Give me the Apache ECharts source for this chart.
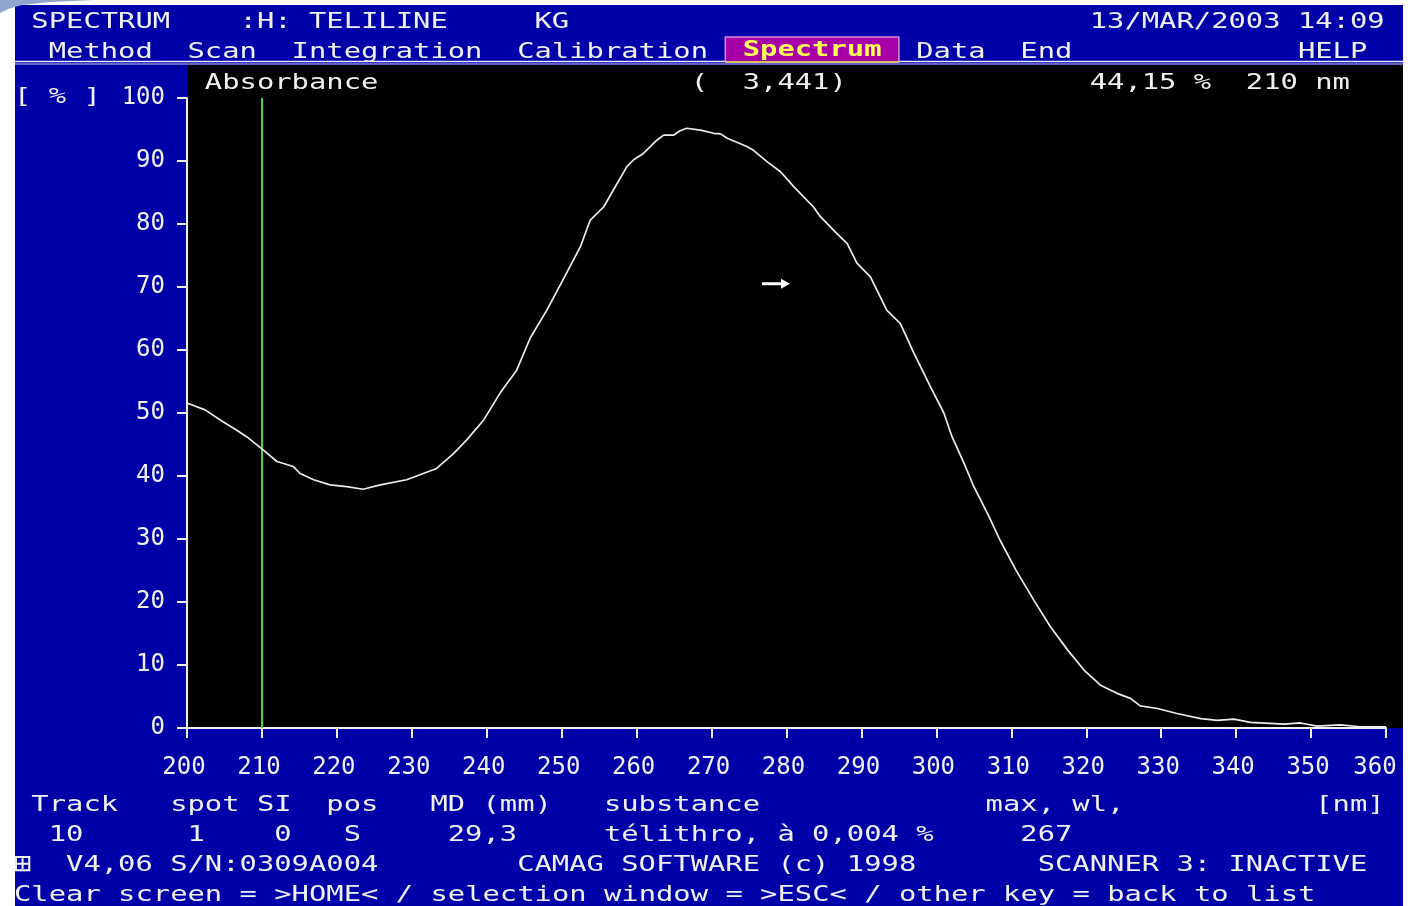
<!DOCTYPE html>
<html>
<head>
<meta charset="utf-8">
<script src="https://cdn.jsdelivr.net/npm/echarts@6/dist/echarts.min.js"></script>
<style>
html,body{margin:0;padding:0;background:#ffffff;}
#chart{width:1412px;height:906px;}
</style>
</head>
<body>
<div id="chart"></div>
<script>
// ---- data ----
const wavelengths = [200.0, 202.4, 204.8, 206.6, 208.0, 210.2, 212.0, 214.2, 215.1, 216.9, 219.1, 221.3, 223.5, 225.8, 229.3, 231.1, 233.3, 235.6, 237.3, 239.6, 241.8, 244.0, 245.8, 248.0, 249.8, 252.5, 253.8, 255.6, 256.9, 258.7, 259.6, 260.9, 262.7, 263.6, 264.9, 265.8, 266.7, 268.5, 270.3, 271.2, 272.1, 274.7, 275.6, 277.4, 279.2, 281.0, 283.6, 284.5, 286.3, 288.1, 289.4, 291.2, 293.4, 295.2, 297.0, 299.2, 301.0, 302.1, 303.7, 305.0, 306.8, 308.5, 310.6, 313.0, 315.2, 317.5, 319.7, 321.9, 324.1, 325.9, 327.2, 329.5, 332.1, 335.3, 337.5, 339.7, 341.9, 346.4, 348.6, 350.8, 353.9, 356.6, 360.0];
const absorbance = [51.6, 50.5, 48.6, 47.3, 46.2, 44.1, 42.3, 41.5, 40.4, 39.4, 38.6, 38.3, 37.9, 38.6, 39.4, 40.2, 41.2, 43.6, 45.7, 48.9, 53.2, 56.8, 61.9, 66.3, 70.3, 76.4, 80.6, 82.7, 85.4, 89.1, 90.2, 91.2, 93.3, 94.1, 94.1, 94.8, 95.2, 94.9, 94.4, 94.3, 93.6, 92.3, 91.7, 89.9, 88.3, 85.9, 82.7, 81.2, 79.0, 76.9, 73.8, 71.6, 66.3, 64.2, 59.5, 54.2, 50.0, 46.2, 42.0, 38.3, 34.1, 29.8, 25.1, 20.3, 16.1, 12.4, 9.2, 6.8, 5.5, 4.7, 3.5, 3.1, 2.3, 1.5, 1.2, 1.4, 0.9, 0.6, 0.8, 0.3, 0.5, 0.2, 0.2];
const xTickValues = [200, 210, 220, 230, 240, 250, 260, 270, 280, 290, 300, 310, 320, 330, 340, 350, 360];
const yTickValues = [0, 10, 20, 30, 40, 50, 60, 70, 80, 90, 100];
const cursorWavelength = [210];
const cursorReading = ['44,15 %', '210 nm'];
const cursorArrow = [278.6, 70.5];
const headerRow = [['SPECTRUM', 1], [':H:', 13], ['TELILINE', 17], ['KG', 30], ['13/MAR/2003 14:09', 62]];
const menuRow = [['Method', 2], ['Scan', 10], ['Integration', 16], ['Calibration', 29], ['Data', 52], ['End', 58], ['HELP', 74]];
const activeMenu = ['Spectrum', 42];
const infoLabels = [['Track', 1], ['spot SI', 9], ['pos', 18], ['MD (mm)', 24], ['substance', 34], ['max, wl,', 56], ['[nm]', 75]];
const infoValues = [['10', 2], ['1', 10], ['0', 15], ['S', 19], ['29,3', 25], ['télithro, à 0,004 %', 34], ['267', 58]];
const statusRow = [['V4,06 S/N:0309A004', 3], ['CAMAG SOFTWARE (c) 1998', 29], ['SCANNER 3: INACTIVE', 59]];
const helpRow = [['Clear screen = >HOME< / selection window = >ESC< / other key = back to list', 0]];

// ---- build ----
const seriesData = wavelengths.map((w, i) => [w, absorbance[i]]);
const FG = '#f0f0f0';
const CW = 17.35, X0 = 14, FS = 21;
const SX = CW / (FS * 0.602);
const MONO = '"DejaVu Sans Mono", "Liberation Mono", monospace';

function txt(s, col, y, color, bold, size) {
  const fs = size || FS;
  return {
    type: 'text', x: X0 + col * CW, y: y + 2, scaleX: SX * FS / fs, z: 20, silent: true,
    style: {
      text: s, fill: color || FG,
      font: (bold ? 'bold ' : '') + fs + 'px ' + MONO,
      align: 'left', verticalAlign: 'middle',
      textAlign: 'left', textVerticalAlign: 'middle'
    }
  };
}
function row(items, y) { return items.map(it => txt(it[0], it[1], y)); }

const graphics = [
  { type: 'rect', z: -20, silent: true, shape: { x: 15, y: 5, width: 1388, height: 901 }, style: { fill: '#0000a8' } },
  { type: 'polygon', z: -19, silent: true, shape: { points: [[0, 0], [95, 0], [50, 2], [22, 5], [8, 9], [0, 13]] }, style: { fill: '#8fa6cf' } },
  { type: 'line', z: -18, silent: true, shape: { x1: 15, y1: 61.5, x2: 1403, y2: 61.5 }, style: { stroke: '#e8e8f4', lineWidth: 1.5 } },
  { type: 'line', z: -18, silent: true, shape: { x1: 15, y1: 64, x2: 1403, y2: 64 }, style: { stroke: '#c8c8e8', lineWidth: 1 } },
  { type: 'rect', z: -18, silent: true, shape: { x: 188, y: 65, width: 1215, height: 663 }, style: { fill: '#000000' } },
  { type: 'rect', z: 15, silent: true, shape: { x: X0 + 41 * CW, y: 37, width: 10 * CW, height: 25 }, style: { fill: '#a800a8', stroke: '#d890d8', lineWidth: 1.5 } },
  { type: 'line', z: 16, silent: true, shape: { x1: X0 + 41 * CW, y1: 62, x2: X0 + 51 * CW, y2: 62 }, style: { stroke: '#e0e040', lineWidth: 1.5 } },
  txt(activeMenu[0], activeMenu[1], 49, '#ffff55', true),
  txt('Absorbance', 11, 82),
  txt('(  3,441)', 39, 82),
  txt(cursorReading[0], 62, 82),
  txt(cursorReading[1], 71, 82),
  txt('[ % ]', 0, 96),
  txt('⊞', 0, 863, FG, false, 30)
].concat(row(headerRow, 21), row(menuRow, 51), row(infoLabels, 804), row(infoValues, 834), row(statusRow, 864), row(helpRow, 894));

const labelRich = {
  n: { color: FG, fontFamily: 'DejaVu Sans Mono', fontSize: 24, padding: [0, 6, 0, 0] },
  e: { color: FG, fontFamily: 'DejaVu Sans Mono', fontSize: 24, padding: [0, 22, 0, 0] }
};

const chart = echarts.init(document.getElementById('chart'));
chart.setOption({
  animation: false,
  backgroundColor: '#ffffff',
  graphic: { elements: graphics },
  grid: { left: 187, right: 26, top: 98, bottom: 178, containLabel: false },
  xAxis: {
    type: 'value', min: xTickValues[0], max: xTickValues[xTickValues.length - 1], interval: 10,
    axisLine: { show: true, onZero: false, lineStyle: { color: FG, width: 2 } },
    axisTick: { show: true, inside: false, length: 10, lineStyle: { color: FG, width: 2 } },
    splitLine: { show: false },
    axisLabel: {
      color: FG, fontFamily: 'DejaVu Sans Mono', fontSize: 24, margin: 28,
      formatter: v => (v === xTickValues[xTickValues.length - 1] ? '{e|' + v + '}' : '{n|' + v + '}'),
      rich: labelRich
    }
  },
  yAxis: {
    type: 'value', min: yTickValues[0], max: yTickValues[yTickValues.length - 1], interval: 10,
    axisLine: { show: true, lineStyle: { color: FG, width: 2 } },
    axisTick: { show: true, inside: false, length: 10, lineStyle: { color: FG, width: 2 } },
    splitLine: { show: false },
    axisLabel: { color: FG, fontFamily: 'DejaVu Sans Mono', fontSize: 24, margin: 22 }
  },
  series: [
    {
      type: 'line', data: seriesData, showSymbol: false, smooth: false, z: 5,
      lineStyle: { color: '#ececec', width: 1.7 },
      markLine: {
        silent: true, symbol: ['none', 'none'], label: { show: false },
        lineStyle: { color: '#44d444', width: 2, type: 'solid' },
        data: cursorWavelength.map(w => ({ xAxis: w }))
      }
    },
    {
      type: 'scatter', data: [cursorArrow], z: 6, silent: true,
      symbol: 'path://M0,3.5 L19,3.5 L19,0 L28,5 L19,10 L19,6.5 L0,6.5 Z',
      symbolSize: [28, 10], symbolKeepAspect: false,
      itemStyle: { color: '#ffffff', opacity: 1 }
    }
  ]
});
</script>
</body>
</html>
